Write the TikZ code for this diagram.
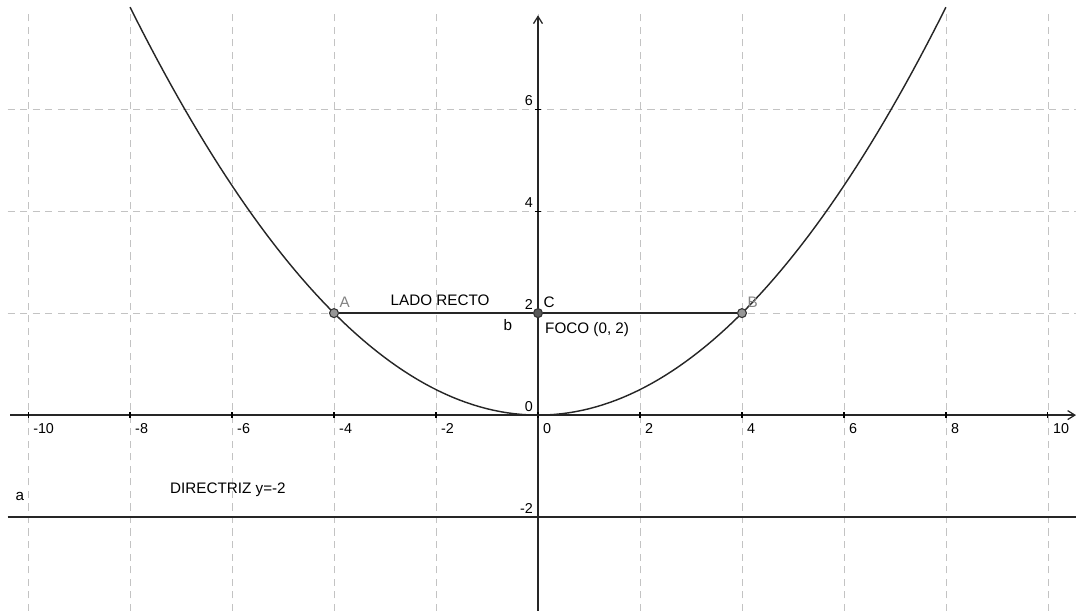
\documentclass[tikz,border=0pt]{standalone}
\usepackage{fontspec}
\setmainfont{Liberation Sans}
\usepackage{xcolor}
\definecolor{grisGrilla}{RGB}{195,195,195}
\definecolor{grisPunto}{RGB}{150,150,150}
\definecolor{grisTexto}{RGB}{130,130,130}
\usetikzlibrary{arrows.meta, positioning}

\begin{document}
\begin{tikzpicture}[
  grilla/.style={draw=grisGrilla, dash pattern=on 4pt off 3pt, line width=0.5pt},
  eje/.style={-{Straight Barb[length=4pt,width=5pt]}, line width=0.7pt, color=black!85},
  curva/.style={line width=0.8pt, color=black!85},
  punto/.style={circle, draw=black!80, fill=grisPunto, inner sep=0pt, minimum size=5pt, line width=0.6pt},
  num/.style={font=\fontsize{8}{9}\selectfont, inner sep=1pt},
  etiq/.style={font=\fontsize{8.5}{10}\selectfont, inner sep=1pt}
]
  \useasboundingbox (-10.55,-3.84) rectangle (10.55,8.14);

  % grilla
  \foreach \x in {-10,-8,...,10}
    \draw[grilla] (\x,-3.84) -- (\x,7.9);
  \foreach \y in {-2,2,4,6}
    \draw[grilla] (-10.4,\y) -- (10.55,\y);

  % ejes
  \coordinate (xizq) at (-10.35,0);
  \coordinate (xder) at (10.55,0);
  \coordinate (yinf) at (0,-3.84);
  \coordinate (ysup) at (0,7.84);
  \draw[eje] (xizq) -- (xder);
  \draw[eje] (yinf) -- (ysup);
  \foreach \x in {-10,-8,...,10} {
    \draw[line width=0.6pt] (\x,0.06) -- (\x,-0.06);
    \node[num, anchor=north west] at (\x+0.06,-0.12) {\x};
  }
  \foreach \y in {-2,2,4,6}
    \draw[line width=0.6pt] (-0.06,\y) -- (0.06,\y);
  \foreach \y in {-2,0,2,4,6}
    \node[num, anchor=south east] at (-0.06,\y+0.02) {\y};

  % parabola x^2 = 8y
  \draw[curva, domain=-8:8, samples=120] plot (\x,{\x*\x/8});

  % directriz
  \coordinate (dizq) at (-10.4,-2);
  \coordinate (dder) at (10.55,-2);
  \draw[curva] (dizq) -- (dder);
  \node[etiq] (a) at (-10.16,-1.6) {a};
  \node[etiq] (directriz) at (-6.08,-1.47) {DIRECTRIZ y=-2};

  % lado recto
  \node[punto] (A) at (-4,2) {};
  \node[punto, fill=black!65] (C) at (0,2) {};
  \node[punto] (B) at (4,2) {};
  \draw[curva] (A) -- (C) -- (B);
  \node[etiq, text=grisTexto, anchor=south west] at (A.north east) {A};
  \node[etiq, text=grisTexto, anchor=south west] at (B.north east) {B};
  \node[etiq, anchor=south west] at (C.north east) {C};
  \node[etiq] (lado) at (-1.92,2.26) {LADO RECTO};
  \node[etiq] (b) at (-0.59,1.76) {b};
  \node[etiq, anchor=west] (foco) at (0.1,1.67) {FOCO (0, 2)};
\end{tikzpicture}
\end{document}
